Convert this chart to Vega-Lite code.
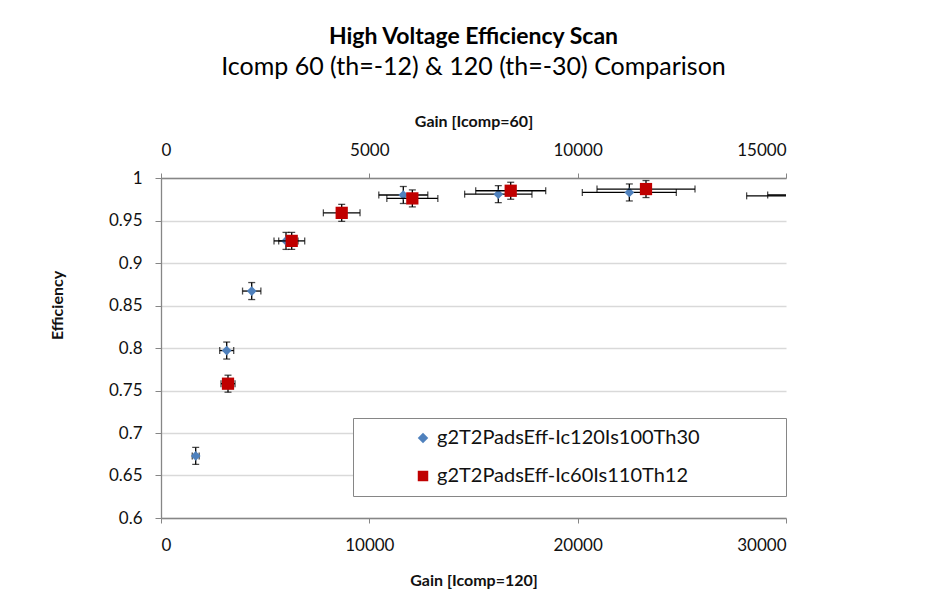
{
  "$schema": "https://vega.github.io/schema/vega-lite/v6.json",
  "width": 625,
  "height": 340,
  "autosize": "none",
  "padding": {"left": 161, "top": 178, "right": 148, "bottom": 89},
  "background": "white",
  "config": {
    "font": "Lato",
    "view": {"stroke": null},
    "axis": {
      "labelFont": "Lato",
      "titleFont": "Lato",
      "labelFontSize": 17,
      "titleFontSize": 16,
      "labelColor": "#111",
      "titleColor": "#111",
      "titleFontWeight": "bold",
      "domainColor": "#868686",
      "tickColor": "#868686",
      "gridColor": "#d9d9d9",
      "gridWidth": 1.3
    }
  },
  "title": {
    "text": "High Voltage Efficiency Scan",
    "subtitle": "Icomp 60 (th=-12) & 120 (th=-30) Comparison",
    "font": "Lato",
    "fontSize": 23,
    "fontWeight": "bold",
    "color": "#000",
    "subtitleFont": "Lato",
    "subtitleFontSize": 25,
    "subtitleColor": "#000",
    "subtitlePadding": 6,
    "anchor": "middle",
    "offset": 33
  },
  "datasets": {
    "ic120": [
      {"series": "g2T2PadsEff-Ic120Is100Th30", "gain": 1666, "eff": 0.673, "gainLo": 1500, "gainHi": 1832, "effLo": 0.663, "effHi": 0.683},
      {"series": "g2T2PadsEff-Ic120Is100Th30", "gain": 3154, "eff": 0.797, "gainLo": 2818, "gainHi": 3490, "effLo": 0.787, "effHi": 0.807},
      {"series": "g2T2PadsEff-Ic120Is100Th30", "gain": 4354, "eff": 0.867, "gainLo": 3914, "gainHi": 4794, "effLo": 0.857, "effHi": 0.877},
      {"series": "g2T2PadsEff-Ic120Is100Th30", "gain": 6000, "eff": 0.926, "gainLo": 5424, "gainHi": 6576, "effLo": 0.916, "effHi": 0.936},
      {"series": "g2T2PadsEff-Ic120Is100Th30", "gain": 11630, "eff": 0.980, "gainLo": 10454, "gainHi": 12806, "effLo": 0.970, "effHi": 0.990},
      {"series": "g2T2PadsEff-Ic120Is100Th30", "gain": 16190, "eff": 0.981, "gainLo": 14574, "gainHi": 17806, "effLo": 0.971, "effHi": 0.991},
      {"series": "g2T2PadsEff-Ic120Is100Th30", "gain": 22480, "eff": 0.983, "gainLo": 20224, "gainHi": 24736, "effLo": 0.973, "effHi": 0.993},
      {"series": "g2T2PadsEff-Ic120Is100Th30", "gain": 31230, "eff": 0.979, "gainLo": 28110, "gainHi": 34350, "effLo": 0.969, "effHi": 0.989}
    ],
    "ic60": [
      {"series": "g2T2PadsEff-Ic60Is110Th12", "gain": 1608, "eff": 0.758, "gainLo": 1440, "gainHi": 1776, "effLo": 0.748, "effHi": 0.768},
      {"series": "g2T2PadsEff-Ic60Is110Th12", "gain": 3137, "eff": 0.926, "gainLo": 2825, "gainHi": 3449, "effLo": 0.916, "effHi": 0.936},
      {"series": "g2T2PadsEff-Ic60Is110Th12", "gain": 4337, "eff": 0.959, "gainLo": 3897, "gainHi": 4777, "effLo": 0.949, "effHi": 0.969},
      {"series": "g2T2PadsEff-Ic60Is110Th12", "gain": 6032, "eff": 0.976, "gainLo": 5420, "gainHi": 6644, "effLo": 0.966, "effHi": 0.986},
      {"series": "g2T2PadsEff-Ic60Is110Th12", "gain": 8393, "eff": 0.985, "gainLo": 7553, "gainHi": 9233, "effLo": 0.975, "effHi": 0.995},
      {"series": "g2T2PadsEff-Ic60Is110Th12", "gain": 11640, "eff": 0.987, "gainLo": 10464, "gainHi": 12816, "effLo": 0.977, "effHi": 0.997},
      {"series": "g2T2PadsEff-Ic60Is110Th12", "gain": 16180, "eff": 0.980, "gainLo": 14560, "gainHi": 17800, "effLo": 0.970, "effHi": 0.990}
    ]
  },
  "layer": [
    {
      "data": {"name": "ic120"},
      "mark": {"type": "rule", "clip": true, "color": "#000", "strokeWidth": 1.3},
      "encoding": {
        "x": {"field": "gainLo", "type": "quantitative", "scale": {"domain": [0, 30000]}, "axis": null},
        "x2": {"field": "gainHi"},
        "y": {"field": "eff", "type": "quantitative", "scale": {"domain": [0.6, 1]}, "axis": null}
      }
    },
    {
      "data": {"name": "ic120"},
      "mark": {"type": "rule", "clip": true, "color": "#000", "strokeWidth": 1.3},
      "encoding": {
        "x": {"field": "gain", "type": "quantitative", "scale": {"domain": [0, 30000]}, "axis": null},
        "y": {"field": "effLo", "type": "quantitative", "axis": null},
        "y2": {"field": "effHi"}
      }
    },
    {
      "data": {"name": "ic120"},
      "mark": {"type": "tick", "clip": true, "color": "#000", "orient": "vertical", "size": 7, "thickness": 1.3},
      "encoding": {
        "x": {"field": "gainLo", "type": "quantitative", "scale": {"domain": [0, 30000]}, "axis": null},
        "y": {"field": "eff", "type": "quantitative", "axis": null}
      }
    },
    {
      "data": {"name": "ic120"},
      "mark": {"type": "tick", "clip": true, "color": "#000", "orient": "vertical", "size": 7, "thickness": 1.3},
      "encoding": {
        "x": {"field": "gainHi", "type": "quantitative", "scale": {"domain": [0, 30000]}, "axis": null},
        "y": {"field": "eff", "type": "quantitative", "axis": null}
      }
    },
    {
      "data": {"name": "ic120"},
      "mark": {"type": "tick", "clip": true, "color": "#000", "orient": "horizontal", "size": 7, "thickness": 1.3},
      "encoding": {
        "x": {"field": "gain", "type": "quantitative", "scale": {"domain": [0, 30000]}, "axis": null},
        "y": {"field": "effLo", "type": "quantitative", "axis": null}
      }
    },
    {
      "data": {"name": "ic120"},
      "mark": {"type": "tick", "clip": true, "color": "#000", "orient": "horizontal", "size": 7, "thickness": 1.3},
      "encoding": {
        "x": {"field": "gain", "type": "quantitative", "scale": {"domain": [0, 30000]}, "axis": null},
        "y": {"field": "effHi", "type": "quantitative", "axis": null}
      }
    },
    {
      "data": {"name": "ic120"},
      "mark": {"type": "point", "clip": true, "filled": true, "opacity": 1, "size": 95},
      "encoding": {
        "x": {
          "field": "gain", "type": "quantitative", "scale": {"domain": [0, 30000]},
          "axis": {"orient": "bottom", "title": "Gain [Icomp=120]", "values": [0, 10000, 20000, 30000], "format": "d", "grid": false, "tickSize": 5, "labelPadding": 14, "titlePadding": 19, "domainWidth": 1.3}
        },
        "y": {
          "field": "eff", "type": "quantitative",
          "axis": {"title": "Efficiency", "values": [0.6, 0.65, 0.7, 0.75, 0.8, 0.85, 0.9, 0.95, 1], "format": "~g", "grid": true, "tickSize": 6, "labelPadding": 13, "titlePadding": 43, "titleY": 127, "domainWidth": 1.3}
        },
        "color": {
          "field": "series", "type": "nominal",
          "scale": {"domain": ["g2T2PadsEff-Ic120Is100Th30", "g2T2PadsEff-Ic60Is110Th12"], "range": ["#4f81bd", "#c00000"]},
          "legend": {
            "title": "\u00a0", "titleOrient": "right", "titlePadding": 76, "titleFontSize": 4,
            "orient": "none", "legendX": 192, "legendY": 240,
            "labelFont": "Lato", "labelFontSize": 20, "labelColor": "#111", "labelLimit": 500,
            "strokeColor": "#868686", "fillColor": "white", "padding": 10, "rowPadding": 18,
            "symbolSize": 110, "symbolOffset": 50, "labelOffset": 4
          }
        },
        "shape": {
          "field": "series", "type": "nominal",
          "scale": {"domain": ["g2T2PadsEff-Ic120Is100Th30", "g2T2PadsEff-Ic60Is110Th12"], "range": ["diamond", "square"]},
          "legend": {
            "title": "\u00a0", "titleOrient": "right", "titlePadding": 76, "titleFontSize": 4,
            "orient": "none", "legendX": 192, "legendY": 240,
            "labelFont": "Lato", "labelFontSize": 20, "labelColor": "#111", "labelLimit": 500,
            "strokeColor": "#868686", "fillColor": "white", "padding": 10, "rowPadding": 18,
            "symbolSize": 110, "symbolOffset": 50, "labelOffset": 4
          }
        }
      }
    },
    {
      "data": {"name": "ic60"},
      "mark": {"type": "rule", "clip": true, "color": "#000", "strokeWidth": 1.3},
      "encoding": {
        "x": {"field": "gainLo", "type": "quantitative", "scale": {"domain": [0, 15000]}, "axis": null},
        "x2": {"field": "gainHi"},
        "y": {"field": "eff", "type": "quantitative", "axis": null}
      }
    },
    {
      "data": {"name": "ic60"},
      "mark": {"type": "rule", "clip": true, "color": "#000", "strokeWidth": 1.3},
      "encoding": {
        "x": {"field": "gain", "type": "quantitative", "scale": {"domain": [0, 15000]}, "axis": null},
        "y": {"field": "effLo", "type": "quantitative", "axis": null},
        "y2": {"field": "effHi"}
      }
    },
    {
      "data": {"name": "ic60"},
      "mark": {"type": "tick", "clip": true, "color": "#000", "orient": "vertical", "size": 7, "thickness": 1.3},
      "encoding": {
        "x": {"field": "gainLo", "type": "quantitative", "scale": {"domain": [0, 15000]}, "axis": null},
        "y": {"field": "eff", "type": "quantitative", "axis": null}
      }
    },
    {
      "data": {"name": "ic60"},
      "mark": {"type": "tick", "clip": true, "color": "#000", "orient": "vertical", "size": 7, "thickness": 1.3},
      "encoding": {
        "x": {"field": "gainHi", "type": "quantitative", "scale": {"domain": [0, 15000]}, "axis": null},
        "y": {"field": "eff", "type": "quantitative", "axis": null}
      }
    },
    {
      "data": {"name": "ic60"},
      "mark": {"type": "tick", "clip": true, "color": "#000", "orient": "horizontal", "size": 7, "thickness": 1.3},
      "encoding": {
        "x": {"field": "gain", "type": "quantitative", "scale": {"domain": [0, 15000]}, "axis": null},
        "y": {"field": "effLo", "type": "quantitative", "axis": null}
      }
    },
    {
      "data": {"name": "ic60"},
      "mark": {"type": "tick", "clip": true, "color": "#000", "orient": "horizontal", "size": 7, "thickness": 1.3},
      "encoding": {
        "x": {"field": "gain", "type": "quantitative", "scale": {"domain": [0, 15000]}, "axis": null},
        "y": {"field": "effHi", "type": "quantitative", "axis": null}
      }
    },
    {
      "data": {"name": "ic60"},
      "mark": {"type": "point", "clip": true, "filled": true, "opacity": 1, "size": 150},
      "encoding": {
        "x": {
          "field": "gain", "type": "quantitative", "scale": {"domain": [0, 15000]},
          "axis": {"orient": "top", "title": "Gain [Icomp=60]", "values": [0, 5000, 10000, 15000], "format": "d", "grid": false, "tickSize": 5, "labelPadding": 14, "titlePadding": 12, "domainWidth": 1.3}
        },
        "y": {"field": "eff", "type": "quantitative", "axis": null},
        "color": {"field": "series", "type": "nominal"},
        "shape": {"field": "series", "type": "nominal"}
      }
    }
  ],
  "resolve": {"scale": {"x": "independent"}, "axis": {"y": "independent"}}
}
